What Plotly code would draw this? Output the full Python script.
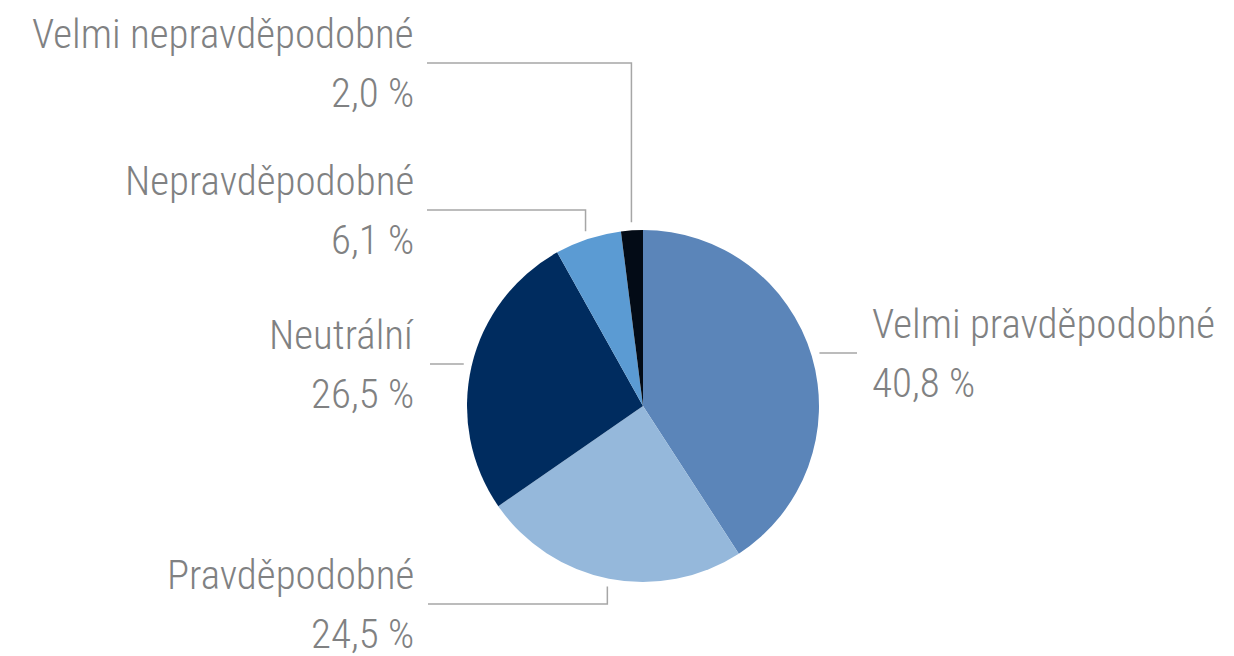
import math
import plotly.graph_objects as go

# ---- data ----
categories = ["Velmi pravděpodobné", "Pravděpodobné", "Neutrální",
              "Nepravděpodobné", "Velmi nepravděpodobné"]
values = [40.8, 24.5, 26.5, 6.1, 2.0]
value_labels = ["40,8 %", "24,5 %", "26,5 %", "6,1 %", "2,0 %"]

# ---- styles / layout ----
colors = ["#5B85B9", "#95B8DB", "#002C5F", "#5B9BD3", "#030B16"]
W, H = 1234, 656
cx, cy, R = 643, 406, 176
leader_gap = 8
# label anchor: (side, line-end x, line y)
label_anchor = [("right", 857, 353), ("left", 428, 604), ("left", 430, 364),
                ("left", 427, 210), ("left", 427, 63)]
left_text_x = 416
right_text_pad = 13
text_color = "#808182"
line_color = "#A6A6A6"
FONT = "Roboto Condensed, DejaVu Sans Condensed, sans-serif"
FS = 41

fig = go.Figure()
fig.add_trace(go.Pie(
    labels=categories, values=values, sort=False, direction="clockwise",
    rotation=0, marker=dict(colors=colors, line=dict(width=0)),
    textinfo="none", hoverinfo="label+percent", showlegend=False,
    domain=dict(x=[(cx - R) / W, (cx + R) / W],
                y=[1 - (cy + R) / H, 1 - (cy - R) / H]),
))

total = sum(values)
cum = 0.0
annotations = []
for cat, v, vl, (side, lx, ly) in zip(categories, values, value_labels, label_anchor):
    mid = (cum + v / 2) / total * 2 * math.pi
    cum += v
    ex = cx + (R + leader_gap) * math.sin(mid)
    ey = cy - (R + leader_gap) * math.cos(mid)
    if abs(ey - ly) < 4:
        xs, ys = [ex, lx], [ly, ly]
    else:
        xs, ys = [ex, ex, lx], [ey, ly, ly]
    fig.add_trace(go.Scatter(x=xs, y=ys, mode="lines", xaxis="x", yaxis="y",
                             line=dict(color=line_color, width=1.5),
                             hoverinfo="skip", showlegend=False))
    if side == "left":
        tx, anchor = left_text_x, "right"
    else:
        tx, anchor = lx + right_text_pad, "left"
    for txt, dy in ((cat, -29), (vl, 30)):
        annotations.append(dict(x=tx, y=ly + dy, text=txt, xref="x", yref="y",
                                xanchor=anchor, yanchor="middle", showarrow=False,
                                font=dict(family=FONT, size=FS, color=text_color,
                                          weight=300)))

fig.update_layout(
    width=W, height=H, margin=dict(l=0, r=0, t=0, b=0),
    paper_bgcolor="white", plot_bgcolor="rgba(0,0,0,0)",
    xaxis=dict(range=[0, W], visible=False, fixedrange=True),
    yaxis=dict(range=[H, 0], visible=False, fixedrange=True),
    annotations=annotations,
)
fig.write_html("out.html", config={"displayModeBar": False},
               post_script="document.body.style.margin='0';")
